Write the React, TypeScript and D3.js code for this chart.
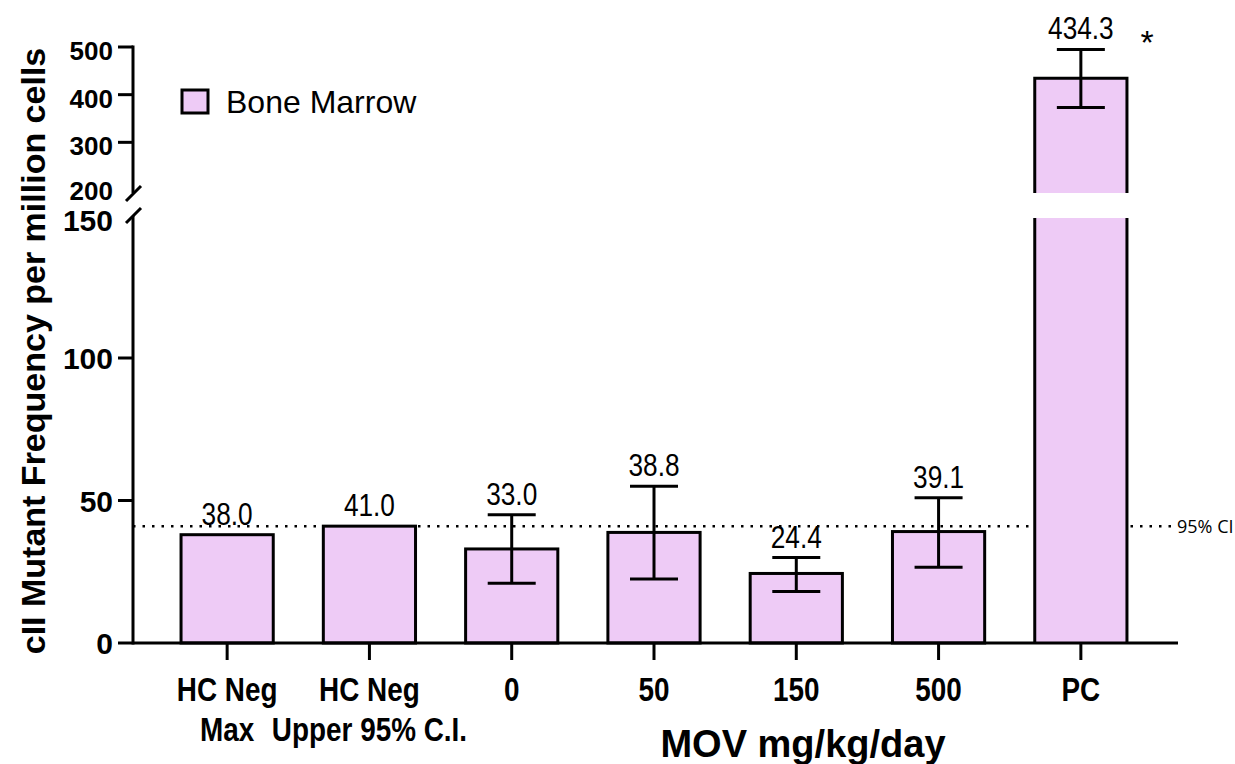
import React from "react";
import * as d3 from "d3";

// ---------- Data ----------
const categories = ["HC Neg\nMax", "HC Neg\nUpper 95% C.I.", "0", "50", "150", "500", "PC"];
const means = [38.0, 41.0, 33.0, 38.8, 24.4, 39.1, 434.3];
const errLow = [null, null, 21.0, 22.5, 18.1, 26.6, 373.0];
const errHigh = [null, null, 45.0, 55.0, 30.0, 51.0, 495.0];
const lowerTicks = [0, 50, 100, 150];
const upperTicks = [200, 300, 400, 500];
const ciValue = 41.0;

const FILL = "#eecbf6";
const SANS = "'Liberation Sans', Arial, sans-serif";
const NARROW_SCALE = 0.82; // fake Arial Narrow

const App: React.FC = () => {
  const width = 1235;
  const height = 764;
  const axisX = 133;
  const baseY = 643;

  // two y segments with a break between them
  const yLow = d3.scaleLinear().domain([0, 150]).range([baseY, 215.5]);
  const yHigh = d3.scaleLinear().domain([200, 500]).range([190, 47]);
  const lowTop = 216;
  const highBottom = 193;
  const y = (v: number) => (v <= 150 ? yLow(v) : yHigh(v));

  const x = d3
    .scaleBand<number>()
    .domain(d3.range(categories.length))
    .range([156, 1152])
    .paddingInner(0.352)
    .paddingOuter(0.176);
  const bw = x.bandwidth();
  const cx = (i: number) => x(i)! + bw / 2;
  const capHalf = 24;

  return (
    <svg width={width} height={height} style={{ position: "absolute", left: 0, top: 0 }}>
      <rect width={width} height={height} fill="#fff" />

      {/* 95% CI dotted line */}
      <line
        x1={axisX}
        x2={1172}
        y1={yLow(ciValue)}
        y2={yLow(ciValue)}
        stroke="#000"
        strokeWidth={2.5}
        strokeDasharray="2.5,7"
      />
      <text x={1177} y={yLow(ciValue) + 7} fontSize={18} fontFamily="'Open Sans', sans-serif">
        95% CI
      </text>

      {/* Bars */}
      {means.map((m, i) => {
        const x0 = x(i)!;
        if (m <= 150) {
          return (
            <rect
              key={i}
              x={x0}
              y={yLow(m)}
              width={bw}
              height={baseY - yLow(m)}
              fill={FILL}
              stroke="#000"
              strokeWidth={3}
            />
          );
        }
        const top = yHigh(m);
        return (
          <g key={i}>
            <rect x={x0} y={top} width={bw} height={highBottom - top} fill={FILL} />
            <rect x={x0} y={lowTop + 2} width={bw} height={baseY - lowTop - 2} fill={FILL} />
            <path
              d={`M${x0},${highBottom}V${top}H${x0 + bw}V${highBottom}`}
              fill="none"
              stroke="#000"
              strokeWidth={3}
            />
            <path
              d={`M${x0},${lowTop + 2}V${baseY}M${x0 + bw},${lowTop + 2}V${baseY}`}
              fill="none"
              stroke="#000"
              strokeWidth={3}
            />
          </g>
        );
      })}

      {/* Error bars */}
      {means.map((m, i) => {
        const lo = errLow[i];
        const hi = errHigh[i];
        if (lo == null || hi == null) return null;
        const c = cx(i);
        return (
          <g key={i} stroke="#000" strokeWidth={3}>
            <line x1={c} x2={c} y1={y(lo)} y2={y(hi)} />
            <line x1={c - capHalf} x2={c + capHalf} y1={y(hi)} y2={y(hi)} />
            <line x1={c - capHalf} x2={c + capHalf} y1={y(lo)} y2={y(lo)} />
          </g>
        );
      })}

      {/* Value labels */}
      {means.map((m, i) => {
        const topVal = errHigh[i] ?? m;
        return (
          <text
            key={i}
            transform={`translate(${cx(i)},${y(topVal) - 10}) scale(${NARROW_SCALE},1)`}
            textAnchor="middle"
            fontSize={32}
            fontFamily={SANS}
          >
            {m.toFixed(1)}
          </text>
        );
      })}
      <text x={1147} y={54} textAnchor="middle" fontSize={34} fontFamily={SANS}>
        *
      </text>

      {/* Y axis */}
      <g stroke="#000" strokeWidth={3} fill="none">
        <line x1={axisX} x2={axisX} y1={yHigh(500) - 1.5} y2={highBottom} />
        <line x1={axisX} x2={axisX} y1={lowTop} y2={baseY + 1.5} />
        <line x1={126} y1={201} x2={141} y2={186} />
        <line x1={126} y1={223} x2={141} y2={208} />
        {upperTicks
          .filter((t) => t > 200)
          .map((t) => (
            <line key={t} x1={axisX - 15} x2={axisX} y1={yHigh(t)} y2={yHigh(t)} />
          ))}
        {lowerTicks
          .filter((t) => t < 150)
          .map((t) => (
            <line key={t} x1={axisX - 15} x2={axisX} y1={yLow(t)} y2={yLow(t)} />
          ))}
      </g>
      {upperTicks.map((t) => (
        <text
          key={t}
          x={113}
          y={yHigh(t) + (t === 200 ? 10 : 13)}
          textAnchor="end"
          fontSize={26}
          fontWeight="bold"
          fontFamily={SANS}
        >
          {t}
        </text>
      ))}
      {lowerTicks.map((t) => (
        <text
          key={t}
          x={113}
          y={yLow(t) + (t === 150 ? 15 : 11)}
          textAnchor="end"
          fontSize={30}
          fontWeight="bold"
          fontFamily={SANS}
        >
          {t}
        </text>
      ))}

      {/* X axis */}
      <g stroke="#000" strokeWidth={3}>
        <line x1={axisX} x2={1178} y1={baseY} y2={baseY} />
        {categories.map((_, i) => (
          <line key={i} x1={cx(i)} x2={cx(i)} y1={baseY} y2={baseY + 17} />
        ))}
      </g>
      {categories.map((c, i) =>
        c.split("\n").map((line, j) => (
          <text
            key={`${i}-${j}`}
            transform={`translate(${cx(i)},${701 + j * 40}) scale(${NARROW_SCALE},1)`}
            textAnchor="middle"
            fontSize={34}
            fontWeight="bold"
            fontFamily={SANS}
          >
            {line}
          </text>
        ))
      )}

      {/* Titles */}
      <text x={803} y={757} textAnchor="middle" fontSize={38} fontWeight="bold" fontFamily={SANS}>
        MOV mg/kg/day
      </text>
      <text
        transform="translate(45,351) rotate(-90)"
        textAnchor="middle"
        fontSize={34}
        fontWeight="bold"
        fontFamily={SANS}
      >
        cII Mutant Frequency per million cells
      </text>

      {/* Legend */}
      <rect x={182} y={90} width={26} height={23} fill={FILL} stroke="#000" strokeWidth={3} />
      <text x={226} y={113} fontSize={32} fontFamily={SANS}>
        Bone Marrow
      </text>
    </svg>
  );
};

export default App;
